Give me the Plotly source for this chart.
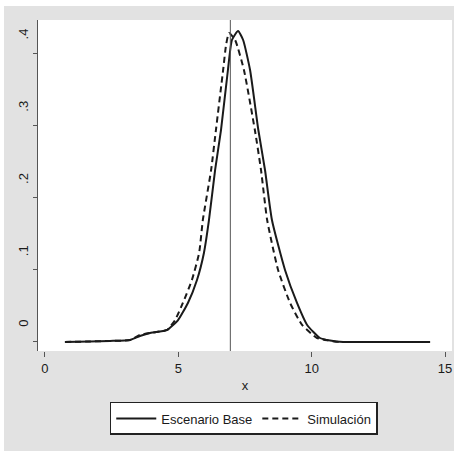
import plotly.graph_objects as go

# Escenario Base (solid)
base_x = [0.75, 1.69, 2.44, 3.19, 3.56, 3.94, 4.43, 4.58, 4.99, 5.36, 5.70, 5.96, 6.15, 6.38,
          6.60, 6.86, 7.01, 7.24, 7.43, 7.69, 8.00, 8.25, 8.51, 9.00, 9.45, 9.83, 10.31, 10.69,
          11.18, 12.56, 14.44]
base_y = [0.0, 0.0007, 0.0014, 0.0028, 0.0083, 0.0125, 0.0152, 0.0166, 0.0304, 0.0540, 0.0858,
          0.1232, 0.1689, 0.2381, 0.2934, 0.3765, 0.4180, 0.4304, 0.4180, 0.3765, 0.2934, 0.2381,
          0.1689, 0.0997, 0.0540, 0.0235, 0.0055, 0.0021, 0.0, 0.0, 0.0]

# Simulación (dashed)
sim_x = [0.75, 1.69, 2.44, 3.19, 3.56, 3.94, 4.43, 4.58, 4.88, 5.17, 5.51, 5.78, 5.92, 6.23,
         6.41, 6.68, 6.79, 6.90, 7.13, 7.46, 7.87, 8.10, 8.33, 8.74, 9.19, 9.64, 10.20, 10.61,
         11.06, 12.56, 14.44]
sim_y = [0.0, 0.0007, 0.0014, 0.0028, 0.0097, 0.0125, 0.0152, 0.0166, 0.0304, 0.0540, 0.0858,
         0.1232, 0.1689, 0.2381, 0.2934, 0.3765, 0.4111, 0.4277, 0.4180, 0.3765, 0.2934, 0.2381,
         0.1689, 0.0997, 0.0540, 0.0235, 0.0055, 0.0021, 0.0, 0.0, 0.0]

vline_x = 6.95

x_ticks = [0, 5, 10, 15]
x_labels = ["0", "5", "10", "15"]
y_ticks = [0, 0.1, 0.2, 0.3, 0.4]
y_labels = ["0", ".1", ".2", ".3", ".4"]

FONT = "Liberation Sans Narrow, Liberation Sans, Arial, sans-serif"
INK = "#1a1a1a"

fig = go.Figure()
fig.add_trace(go.Scatter(x=base_x, y=base_y, mode="lines", name="Escenario Base",
                         line=dict(color=INK, width=2, shape="spline", smoothing=0.5)))
fig.add_trace(go.Scatter(x=sim_x, y=sim_y, mode="lines", name="Simulación",
                         line=dict(color=INK, width=2, dash="6px,4px", shape="spline", smoothing=0.5)))

fig.add_shape(type="line", xref="x", yref="paper", x0=vline_x, x1=vline_x, y0=0, y1=1,
              line=dict(color="#555555", width=1))

# white strips at the top and left edges of the image
fig.add_shape(type="rect", xref="paper", yref="paper", layer="below",
              x0=-38/414, x1=1+2/414, y0=1+14/331, y1=1+20/331,
              fillcolor="white", line=dict(width=0))
fig.add_shape(type="rect", xref="paper", yref="paper", layer="below",
              x0=-38/414, x1=-34/414, y0=-100/331, y1=1+20/331,
              fillcolor="white", line=dict(width=0))

fig.update_layout(
    width=454, height=451,
    margin=dict(l=38, r=2, t=20, b=100, autoexpand=False),
    paper_bgcolor="#e2e2e2", plot_bgcolor="white",
    font=dict(family=FONT, size=13, color=INK),
    showlegend=True,
    legend=dict(orientation="h", x=0.497, xanchor="center", y=-0.154, yanchor="top",
                bgcolor="white", bordercolor="#222222", borderwidth=1.5,
                font=dict(family=FONT, size=13, color=INK), itemwidth=40,
                traceorder="normal"),
    xaxis=dict(range=[-0.26, 15.26], tickvals=x_ticks, ticktext=x_labels,
               showgrid=False, zeroline=False, showline=False, automargin=False,
               ticks="outside", ticklen=5, tickcolor="#555555", ticklabeloverflow="allow",
               title=dict(text="x", font=dict(family=FONT, size=13, color=INK), standoff=6)),
    yaxis=dict(range=[-0.0125, 0.4457], tickvals=y_ticks, ticktext=y_labels,
               showgrid=False, zeroline=False, showline=True, linecolor="#555555", linewidth=1,
               automargin=False, ticklabeloverflow="allow",
               ticks="outside", ticklen=4, tickcolor="#555555", tickangle=-90,
               ticklabelshift=-17, ticklabelstandoff=0),
)

fig.write_html("out.html",
               config={"displayModeBar": False},
               post_script="document.body.style.margin='0';document.body.style.overflow='hidden';")
